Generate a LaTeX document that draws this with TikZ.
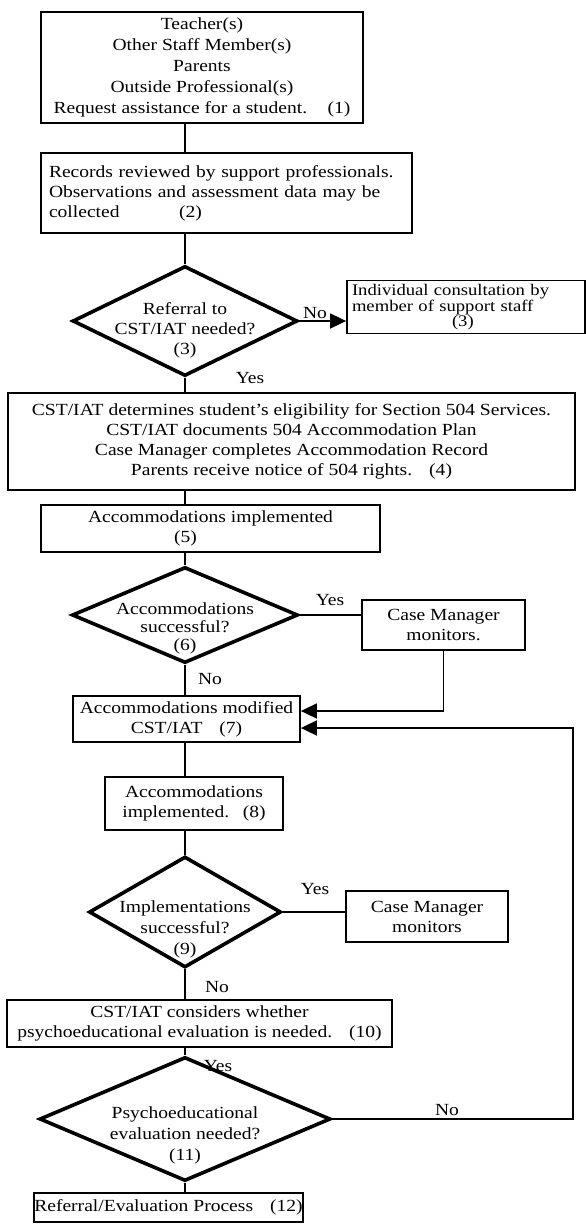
\documentclass[tikz,border=0pt]{standalone}
\usepackage{fontspec}
\setmainfont{Liberation Serif}[FakeStretch=1.15]
\usetikzlibrary{shapes.geometric,arrows.meta,calc}
\newcommand{\fsz}{\fontsize{17}{20}\selectfont}
\begin{document}
\begin{tikzpicture}[x=1pt,y=-1pt,
  box/.style={draw, line width=1.8pt, inner sep=0pt, align=center, font=\fsz},
  dia/.style={draw, diamond, line width=3.6pt, inner sep=0pt},
  txt/.style={inner sep=0pt, align=center, font=\fsz},
  conn/.style={line width=1.8pt},
  arr/.style={line width=1.8pt, -{Triangle[length=16pt,width=15pt]}}]
\useasboundingbox (0,0) rectangle (586,1226);

\node[box, minimum width=322pt, minimum height=111pt, font=\fontsize{17}{21}\selectfont] (b1) at (202,67.5)
  {Teacher(s)\\Other Staff Member(s)\\Parents\\Outside Professional(s)\\Request assistance for a student.\hspace{1.2em}(1)};
\node[box, align=left, text width=355pt, minimum width=371pt, minimum height=80pt] (b2) at (226.5,193)
  {Records reviewed by support professionals.\\Observations and assessment data may be\\collected\hspace{3.5em}(2)};
\node[dia, minimum width=225pt, minimum height=110pt] (d3) at (185,321) {};
\node[txt] (d3t) at (185,330) {Referral to\\CST/IAT needed?\\(3)};
\node[box, align=left, text width=228pt, minimum width=238pt, minimum height=53pt, font=\fontsize{16.2}{14.8}\selectfont] (b3) at (466,307)
  {Individual consultation by\\member of support staff\\\hspace*{100pt}(3)};
\node[box, minimum width=567pt, minimum height=97pt] (b4) at (291.5,441.5)
  {CST/IAT determines student's eligibility for Section 504 Services.\\CST/IAT documents 504 Accommodation Plan\\Case Manager completes Accommodation Record\\Parents receive notice of 504 rights.\hspace{1em}(4)};
\node[box, align=left, minimum width=339pt, minimum height=47pt] (b5) at (210.5,528.5)
  {Accommodations implemented\\\hspace*{86pt}(5)};
\node[dia, minimum width=226pt, minimum height=96pt] (d6) at (185,615) {};
\node[txt, font=\fontsize{17}{18}\selectfont] (d6t) at (185,628) {Accommodations\\successful?\\(6)};
\node[box, minimum width=163pt, minimum height=50pt] (cm1) at (443.5,625) {Case Manager\\monitors.};
\node[box, minimum width=227pt, minimum height=46pt] (b7) at (186.5,719) {Accommodations modified\\CST/IAT\hspace{1em}(7)};
\node[box, minimum width=178pt, minimum height=53pt] (b8) at (194,803.5) {Accommodations\\implemented.\hspace{0.8em}(8)};
\node[dia, minimum width=192pt, minimum height=111pt] (d9) at (185,912) {};
\node[txt, font=\fontsize{17}{21}\selectfont] (d9t) at (185,929) {Implementations\\successful?\\(9)};
\node[box, minimum width=162pt, minimum height=51pt] (cm2) at (427,916.5) {Case Manager\\monitors};
\node[box, minimum width=385pt, minimum height=47pt] (b10) at (199.5,1023.5)
  {CST/IAT considers whether\\psychoeducational evaluation is needed.\hspace{1em}(10)};
\node[dia, minimum width=291pt, minimum height=124pt] (d11) at (185,1119) {};
\node[txt, font=\fontsize{17}{21}\selectfont] (d11t) at (185,1135) {Psychoeducational\\evaluation needed?\\(11)};
\node[box, minimum width=259pt, minimum height=29pt] (b12) at (168.5,1207.5) {Referral/Evaluation Process\hspace{1em}(12)};

\coordinate (j1) at (443,711);
\coordinate (j2) at (573,728);

\draw[conn] (b1.south -| d3.north) -- (b2.north -| d3.north);
\draw[conn] (b2.south -| d3.north) -- (d3.north);
\draw[arr] (d3.east) -- (d3.east -| b3.west);
\draw[conn] (d3.south) -- (b4.north -| d3.south);
\draw[conn] (b4.south -| d6.north) -- (b5.north -| d6.north);
\draw[conn] (b5.south -| d6.north) -- (d6.north);
\draw[conn] (d6.east) -- (d6.east -| cm1.west);
\draw[conn] (d6.south) -- (b7.north -| d6.south);
\draw[arr] (cm1.south) |- (b7.east |- j1);
\draw[conn] (b7.south -| d9.north) -- (b8.north -| d9.north);
\draw[conn] (b8.south -| d9.north) -- (d9.north);
\draw[conn] (d9.east) -- (d9.east -| cm2.west);
\draw[conn] (d9.south) -- (b10.north -| d9.south);
\draw[conn] (b10.south -| d11.north) -- (d11.north);
\draw[conn] (d11.south) -- (b12.north -| d11.south);
\draw[arr] (d11.east) -| (j2) -- (b7.east |- j2);

\node[txt] (l1) at (315,313) {No};
\node[txt] (l2) at (250,378) {Yes};
\node[txt] (l3) at (330,600) {Yes};
\node[txt] (l4) at (210,679) {No};
\node[txt] (l5) at (315,889) {Yes};
\node[txt] (l6) at (217,987) {No};
\node[txt] (l7) at (218,1066) {Yes};
\node[txt] (l8) at (447,1110) {No};
\end{tikzpicture}
\end{document}
